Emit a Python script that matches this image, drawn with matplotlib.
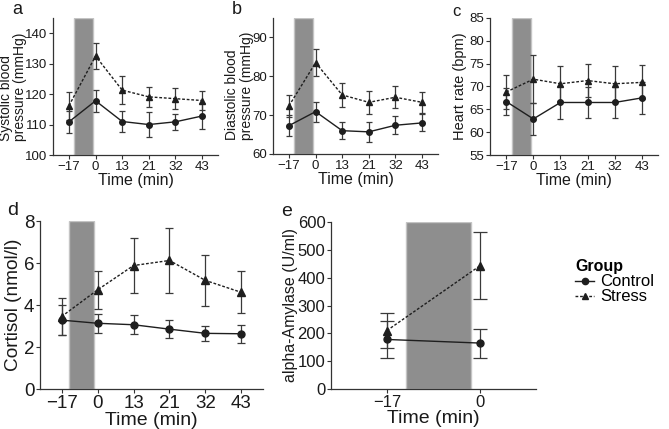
import numpy as np
import matplotlib.pyplot as plt
from matplotlib.lines import Line2D

plt.rcParams['font.family'] = ['Liberation Sans', 'DejaVu Sans']
NARROW = ['Liberation Sans Narrow', 'Liberation Sans', 'DejaVu Sans']

# time points (categorical axis)
times = ['\u221217', '0', '13', '21', '32', '43']
times_amy = ['\u221217', '0']

# a: systolic blood pressure
sys_ctrl = [110.9, 117.8, 111.0, 110.0, 110.9, 112.8]
sys_ctrl_err = [3.6, 3.7, 3.5, 4.2, 2.6, 4.2]
sys_str = [116.2, 132.5, 121.3, 119.1, 118.5, 117.9]
sys_str_err = [4.6, 4.2, 4.6, 3.4, 3.4, 3.2]

# b: diastolic blood pressure
dia_ctrl = [67.3, 70.9, 66.0, 65.7, 67.4, 68.0]
dia_ctrl_err = [2.7, 2.6, 2.2, 2.5, 2.3, 2.2]
dia_str = [72.4, 83.5, 75.2, 73.3, 74.6, 73.3]
dia_str_err = [2.9, 3.4, 3.0, 3.0, 2.8, 2.7]

# c: heart rate
hr_ctrl = [66.7, 62.9, 66.5, 66.5, 66.5, 67.5]
hr_ctrl_err = [3.0, 3.5, 3.7, 3.4, 3.3, 3.5]
hr_str = [68.8, 71.6, 70.6, 71.3, 70.6, 70.9]
hr_str_err = [3.7, 5.3, 3.8, 3.7, 3.8, 3.7]

# d: cortisol
cort_ctrl = [3.28, 3.13, 3.06, 2.85, 2.65, 2.63]
cort_ctrl_err = [0.72, 0.45, 0.45, 0.42, 0.37, 0.43]
cort_str = [3.45, 4.72, 5.88, 6.12, 5.17, 4.60]
cort_str_err = [0.87, 0.92, 1.33, 1.57, 1.23, 1.00]

# e: alpha-amylase
amy_ctrl = [178, 165]
amy_ctrl_err = [66, 52]
amy_str = [210, 443]
amy_str_err = [62, 121]

W, H = 669, 429
fig = plt.figure(figsize=(W / 100, H / 100), dpi=100)

LC = '#1e1e1e'
EC = '#3a3a3a'


def add_ax(l, r, t, b):
    return fig.add_axes([l / W, 1 - b / H, (r - l) / W, (b - t) / H])


def panel(ax, labels, ctrl, ctrl_err, stress, stress_err, ylim, yticks, ylabel,
          lab_x, tfs=9.5, lfs=10, xfs=11.5, cap=2.0, ms=4):
    x = np.arange(1, len(labels) + 1)
    ax.axvspan(1.2, 1.9, facecolor='#8e8e8e', edgecolor='#c4c4c4', lw=1, zorder=0)
    ax.errorbar(x, stress, yerr=stress_err, fmt='none', ecolor=EC, elinewidth=0.9,
                capsize=cap, capthick=0.9, zorder=2)
    ax.errorbar(x, ctrl, yerr=ctrl_err, fmt='none', ecolor=EC, elinewidth=0.9,
                capsize=cap, capthick=0.9, zorder=2)
    ax.plot(x, ctrl, color=LC, lw=1, marker='o', ms=ms, zorder=3)
    ax.plot(x, stress, color=LC, lw=1, ls=(0, (2, 1.3)), marker='^', ms=ms + 0.5, zorder=3)
    ax.set_xlim(0.4, len(labels) + 0.6)
    ax.set_ylim(*ylim)
    ax.set_xticks(x)
    ax.set_xticklabels(labels)
    ax.set_yticks(yticks)
    for s in ['top', 'right']:
        ax.spines[s].set_visible(False)
    for s in ['left', 'bottom']:
        ax.spines[s].set_color('#333333')
        ax.spines[s].set_linewidth(0.9)
    ax.tick_params(direction='out', length=3, width=0.8, color='#333333',
                   labelsize=tfs, labelcolor='#1a1a1a', pad=1)
    for t in ax.get_xticklabels() + ax.get_yticklabels():
        t.set_family(NARROW)
    ax.set_ylabel(ylabel, fontsize=lfs, linespacing=1.05, color='#1a1a1a',
                  multialignment='left')
    ax.yaxis.set_label_coords(lab_x, 0.5)
    ax.set_xlabel('Time (min)', fontsize=xfs, labelpad=0, color='#1a1a1a',
                  family=NARROW)


ax_a = add_ax(53, 218, 18, 155)
panel(ax_a, times, sys_ctrl, sys_ctrl_err, sys_str, sys_str_err, (100, 145),
      [100, 110, 120, 130, 140], 'Systolic blood\npressure (mmHg)', -0.155)

ax_b = add_ax(273, 438, 18, 154)
panel(ax_b, times, dia_ctrl, dia_ctrl_err, dia_str, dia_str_err, (60, 95),
      [60, 70, 80, 90], 'Diastolic blood\npressure (mmHg)', -0.118)

ax_c = add_ax(490, 658, 18, 155)
panel(ax_c, times, hr_ctrl, hr_ctrl_err, hr_str, hr_str_err, (55, 85),
      [55, 60, 65, 70, 75, 80, 85], 'Heart rate (bpm)', -0.137, lfs=10.5)

ax_d = add_ax(40, 263, 221, 389)
panel(ax_d, times, cort_ctrl, cort_ctrl_err, cort_str, cort_str_err, (0, 8),
      [0, 2, 4, 6, 8], 'Cortisol (nmol/l)', -0.081, tfs=13.5, lfs=13.7, xfs=14,
      cap=3, ms=5)

ax_e = add_ax(331, 536, 222, 389)
panel(ax_e, times_amy, amy_ctrl, amy_ctrl_err, amy_str, amy_str_err, (0, 600),
      [0, 100, 200, 300, 400, 500, 600], 'alpha-Amylase (U/ml)', -0.161,
      tfs=12, lfs=11.5, xfs=14, cap=5, ms=5)

for lab, px, py, fs in [('a', 12, 9, 13), ('b', 232, 9, 13), ('c', 452, 11, 12),
                        ('d', 7, 210, 14), ('e', 281, 211, 14)]:
    fig.text(px / W, 1 - py / H, lab, fontsize=fs, va='center', ha='left', color='#1a1a1a')

handles = [Line2D([], [], color=LC, lw=1, marker='o', ms=4.5, label='Control'),
           Line2D([], [], color=LC, lw=1, ls=(0, (2, 1.3)), marker='^', ms=5, label='Stress')]
leg = fig.legend(handles=handles, title='Group', loc='upper left',
                 bbox_to_anchor=(567 / W, 1 - 251 / H), frameon=False,
                 prop={'family': NARROW, 'size': 12},
                 title_fontproperties={'family': NARROW, 'weight': 'bold', 'size': 11.5},
                 alignment='left', handlelength=1.1, handletextpad=0.4,
                 labelspacing=0.0, borderpad=0)

fig.savefig('out.png', dpi=100)
